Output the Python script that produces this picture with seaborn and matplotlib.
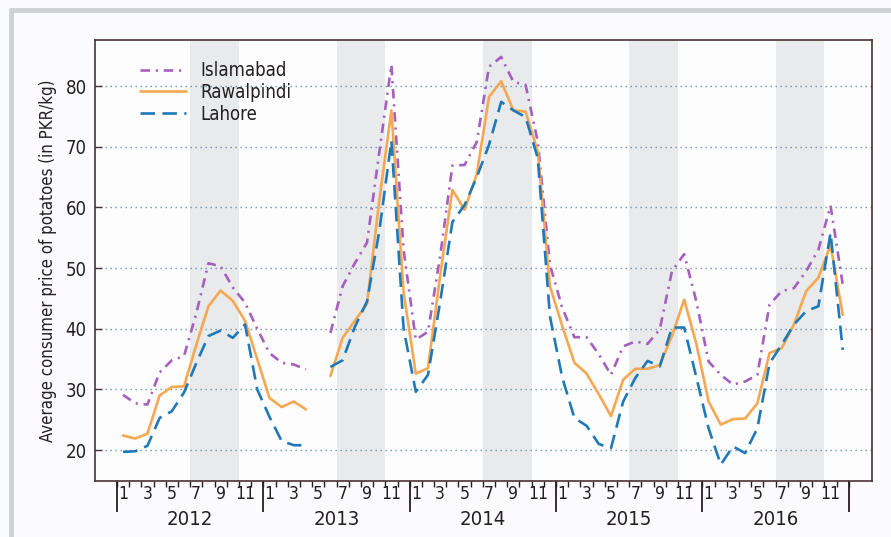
import numpy as np
import pandas as pd
import seaborn as sns
import matplotlib.pyplot as plt
from matplotlib.lines import Line2D
from matplotlib import font_manager

# monthly prices, Jan 2012 .. Dec 2016 (May 2013 missing)
islamabad = [29.1, 27.7, 27.5, 32.8, 34.8, 35.5, 42.5, 50.8, 50.3, 46.8, 44.3, 40.0,
             36.0, 34.4, 34.1, 33.3, np.nan, 39.3, 47.0, 50.8, 54.2, 69.0, 83.5, 53.0,
             38.2, 39.5, 52.0, 66.9, 67.0, 70.8, 83.2, 84.8, 80.7, 80.2, 70.8, 50.5,
             43.5, 38.6, 38.6, 35.8, 32.4, 37.1, 37.9, 37.5, 39.9, 49.5, 52.3, 44.5,
             34.6, 32.4, 30.8, 31.3, 32.4, 44.0, 46.2, 46.7, 49.5, 53.0, 60.3, 47.3]
rawalpindi = [22.4, 21.9, 22.7, 29.0, 30.4, 30.5, 37.3, 43.7, 46.3, 44.6, 41.3, 35.0,
              28.6, 27.1, 28.0, 26.7, np.nan, 32.2, 38.5, 41.3, 44.1, 61.0, 76.0, 46.0,
              32.6, 33.5, 48.8, 62.9, 59.6, 65.5, 78.2, 80.8, 76.0, 75.8, 69.2, 47.0,
              40.5, 34.4, 32.6, 29.2, 25.6, 31.6, 33.4, 33.4, 34.0, 38.8, 44.8, 37.5,
              28.0, 24.2, 25.1, 25.2, 27.7, 36.0, 36.8, 40.7, 46.2, 48.4, 53.8, 42.3]
lahore = [19.7, 19.8, 20.7, 25.3, 26.4, 29.5, 34.3, 38.8, 39.7, 38.5, 40.7, 30.0,
          25.5, 21.5, 20.8, 20.8, np.nan, 33.7, 34.8, 40.3, 44.5, 56.0, 71.0, 40.0,
          29.6, 32.4, 44.5, 57.6, 60.4, 65.0, 70.3, 77.4, 76.0, 74.9, 68.1, 42.0,
          32.0, 25.3, 24.0, 21.0, 20.3, 28.0, 31.9, 34.7, 33.8, 40.2, 40.2, 32.0,
          23.6, 17.6, 20.6, 19.5, 23.6, 34.3, 37.4, 40.7, 42.9, 43.7, 55.8, 36.5]

years = ['2012', '2013', '2014', '2015', '2016']
month_labels = ['1', '3', '5', '7', '9', '11']
cities = ['Islamabad', 'Rawalpindi', 'Lahore']
palette = {'Islamabad': '#a55fbe', 'Rawalpindi': '#f6a751', 'Lahore': '#1f78b8'}
dashes = {'Islamabad': (3.6, 2.2, 0.8, 2.2), 'Rawalpindi': '', 'Lahore': (5.5, 2.8)}

month = np.arange(len(lahore)) + 0.5
wide = pd.DataFrame({'month': month, 'Islamabad': islamabad,
                     'Rawalpindi': rawalpindi, 'Lahore': lahore})
wide['seg'] = (wide['month'] > 16).astype(int)
df = wide.melt(id_vars=['month', 'seg'], var_name='city', value_name='price').dropna()

sns.set_style('white')
names = {f.name for f in font_manager.fontManager.ttflist}
narrow = [n for n in ['Liberation Sans Narrow', 'DejaVu Sans Condensed'] if n in names]
plt.rcParams['font.family'] = narrow + ['DejaVu Sans']
plt.rcParams['font.stretch'] = 'condensed'
scale = 1.0 if narrow else 0.86
ink = '#231f20'
frame = '#4a3232'

fig = plt.figure(figsize=(8.91, 5.37), dpi=100, facecolor='#fbfbfd')
fig.add_artist(Line2D([0.012, 1], [0.981, 0.981], color='#cfd0d2', lw=3.5))
fig.add_artist(Line2D([0.012, 0.012], [0, 0.981], color='#cfd0d2', lw=3.5))

ax = fig.add_axes([0.1066, 0.1043, 0.8721, 0.8212])
ax.set_facecolor('#fdfdfd')

for k in range(len(years)):
    ax.axvspan(12 * k + 6, 12 * k + 10, color='#e8eaeb', lw=0, zorder=0)

sns.lineplot(data=df, x='month', y='price', hue='city', style='city', units='seg',
             estimator=None, hue_order=cities, style_order=cities,
             palette=palette, dashes=dashes, lw=1.9, ax=ax)

sns.move_legend(ax, 'upper left', bbox_to_anchor=(0.036, 0.99), frameon=False,
                title=None, fontsize=15.5 * scale, handlelength=2.5, handletextpad=0.8,
                labelspacing=0.15)
for t in ax.get_legend().get_texts():
    t.set_color(ink)

ax.set_xlim(-1.8, 61.9)
ax.set_ylim(14.9, 87.6)
ax.set_yticks([20, 30, 40, 50, 60, 70, 80])
ax.yaxis.grid(True, linestyle=(0, (1, 2.6)), color='#6d95b0', lw=1.0)
ax.xaxis.grid(False)
ax.tick_params(axis='y', direction='in', length=5, width=1, color=frame,
               labelsize=15.5 * scale, labelcolor=ink, pad=6, left=True)

ax.set_xticks(np.arange(0, 60, 2) + 0.5, labels=month_labels * len(years))
ax.set_xticks(np.arange(0, 61), minor=True)
ax.tick_params(axis='x', which='major', length=0, pad=3, labelsize=14.5 * scale, labelcolor=ink)
ax.tick_params(axis='x', which='minor', direction='out', length=4, width=1, color=ink, bottom=True)
ax.set_xlabel('')
ax.set_ylabel('Average consumer price of potatoes (in PKR/kg)', fontsize=14 * scale,
              color=ink, labelpad=6)

for s in ax.spines.values():
    s.set_visible(True)
    s.set_color(frame)
    s.set_linewidth(1.2)

sec = ax.secondary_xaxis('bottom')
sec.set_xticks(np.arange(0, 61, 12), labels=[''] * 6)
sec.tick_params(length=22, width=1.3, color=ink)
sec.spines['bottom'].set_visible(False)

sec2 = ax.secondary_xaxis('bottom')
sec2.set_xticks(np.arange(6, 60, 12), labels=years)
sec2.tick_params(length=0, pad=21, labelsize=17 * scale, labelcolor=ink)
sec2.spines['bottom'].set_visible(False)

fig.savefig('out.png', dpi=100, facecolor=fig.get_facecolor())
